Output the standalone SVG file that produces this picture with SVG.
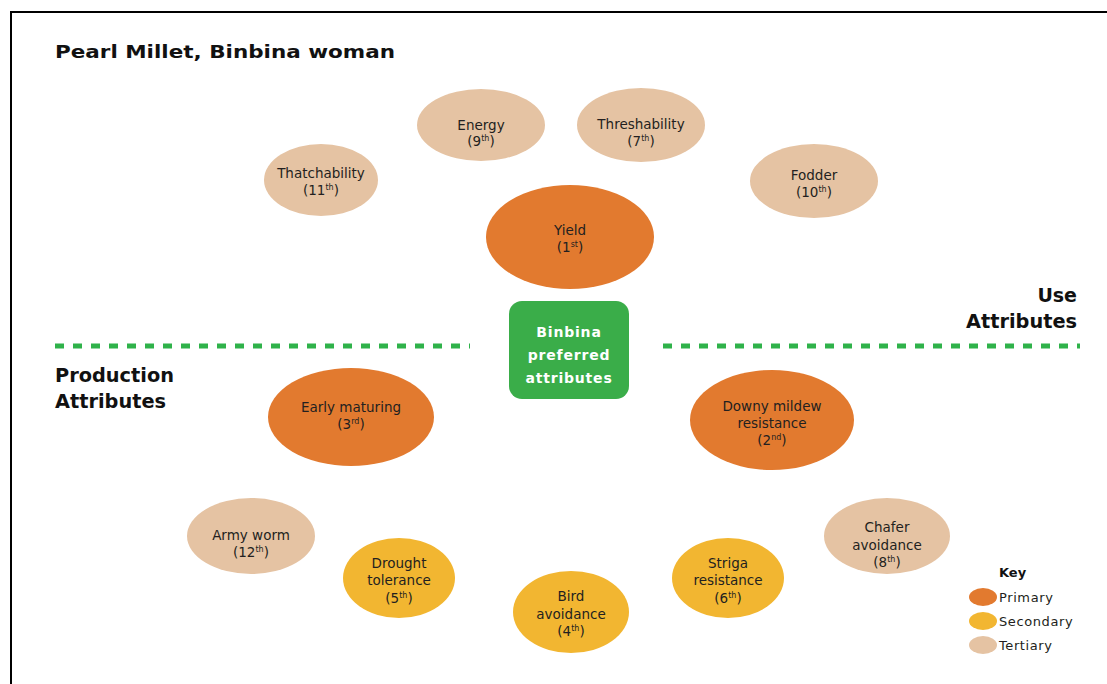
<svg xmlns="http://www.w3.org/2000/svg" width="1107" height="684" viewBox="0 0 1107 684">
<style>
.pri{fill:#e27a2f}
.sec{fill:#f2b631}
.ter{fill:#e5c3a3}
.nt{font-family:"DejaVu Sans","Noto Sans",sans-serif;font-size:13.5px;fill:#231f20;text-anchor:middle}
.sup{font-size:8px}
.hd{font-family:"DejaVu Sans","Noto Sans",sans-serif;font-weight:bold;fill:#111}
.bx{font-family:"DejaVu Sans","Noto Sans",sans-serif;font-weight:bold;font-size:14px;fill:#fff;text-anchor:middle;letter-spacing:0.8px}
.key{font-family:"DejaVu Sans","Noto Sans",sans-serif;font-size:13px;fill:#231f20;letter-spacing:0.6px}
.dash{stroke:#2fb24a;stroke-width:5;stroke-dasharray:9 9;fill:none}
</style>
<rect width="1107" height="684" fill="#fff"/>
<path d="M11 684 V12 H1107" fill="none" stroke="#000" stroke-width="2"/>
<text class="hd" x="55" y="58" font-size="18.5" textLength="340" lengthAdjust="spacingAndGlyphs">Pearl Millet, Binbina woman</text>
<text class="hd" x="1077" y="302" font-size="19" text-anchor="end">Use</text>
<text class="hd" x="1077" y="328" font-size="19" text-anchor="end" textLength="111" lengthAdjust="spacingAndGlyphs">Attributes</text>
<text class="hd" x="55" y="382" font-size="19" textLength="119" lengthAdjust="spacingAndGlyphs">Production</text>
<text class="hd" x="55" y="408" font-size="19" textLength="111" lengthAdjust="spacingAndGlyphs">Attributes</text>
<g id="connectors">
<line class="dash" x1="55" y1="346" x2="470" y2="346"/>
<line class="dash" x1="663" y1="346" x2="1080" y2="346"/>
</g>
<g id="center">
<rect x="509" y="301" width="120" height="98" rx="13" fill="#3aad49"/>
<text class="bx" x="569" y="337">Binbina</text>
<text class="bx" x="569" y="360">preferred</text>
<text class="bx" x="569" y="383">attributes</text>
</g>
<g id="energy"><ellipse class="ter" cx="481" cy="125" rx="64" ry="36"/>
<text class="nt" x="481" y="130">Energy</text><text class="nt" x="481" y="146">(9<tspan class="sup" dy="-5">th</tspan><tspan dy="5">)</tspan></text></g>
<g id="threshability"><ellipse class="ter" cx="641" cy="125" rx="64" ry="37"/>
<text class="nt" x="641" y="129">Threshability</text><text class="nt" x="641" y="146">(7<tspan class="sup" dy="-5">th</tspan><tspan dy="5">)</tspan></text></g>
<g id="thatchability"><ellipse class="ter" cx="321" cy="180" rx="57" ry="36"/>
<text class="nt" x="321" y="178">Thatchability</text><text class="nt" x="321" y="195">(11<tspan class="sup" dy="-5">th</tspan><tspan dy="5">)</tspan></text></g>
<g id="fodder"><ellipse class="ter" cx="814" cy="181" rx="64" ry="37"/>
<text class="nt" x="814" y="180">Fodder</text><text class="nt" x="814" y="197">(10<tspan class="sup" dy="-5">th</tspan><tspan dy="5">)</tspan></text></g>
<g id="yield"><ellipse class="pri" cx="570" cy="237" rx="84" ry="52"/>
<text class="nt" x="570" y="235">Yield</text><text class="nt" x="570" y="252">(1<tspan class="sup" dy="-5">st</tspan><tspan dy="5">)</tspan></text></g>
<g id="early"><ellipse class="pri" cx="351" cy="417" rx="83" ry="49"/>
<text class="nt" x="351" y="412">Early maturing</text><text class="nt" x="351" y="429">(3<tspan class="sup" dy="-5">rd</tspan><tspan dy="5">)</tspan></text></g>
<g id="downy"><ellipse class="pri" cx="772" cy="420" rx="82" ry="50"/>
<text class="nt" x="772" y="411">Downy mildew</text><text class="nt" x="772" y="428">resistance</text><text class="nt" x="772" y="445">(2<tspan class="sup" dy="-5">nd</tspan><tspan dy="5">)</tspan></text></g>
<g id="armyworm"><ellipse class="ter" cx="251" cy="536" rx="64" ry="38"/>
<text class="nt" x="251" y="540">Army worm</text><text class="nt" x="251" y="557">(12<tspan class="sup" dy="-5">th</tspan><tspan dy="5">)</tspan></text></g>
<g id="drought"><ellipse class="sec" cx="399" cy="578" rx="56" ry="40"/>
<text class="nt" x="399" y="568">Drought</text><text class="nt" x="399" y="585">tolerance</text><text class="nt" x="399" y="603">(5<tspan class="sup" dy="-5">th</tspan><tspan dy="5">)</tspan></text></g>
<g id="bird"><ellipse class="sec" cx="571" cy="612" rx="58" ry="41"/>
<text class="nt" x="571" y="601">Bird</text><text class="nt" x="571" y="619">avoidance</text><text class="nt" x="571" y="636">(4<tspan class="sup" dy="-5">th</tspan><tspan dy="5">)</tspan></text></g>
<g id="striga"><ellipse class="sec" cx="728" cy="578" rx="56" ry="40"/>
<text class="nt" x="728" y="568">Striga</text><text class="nt" x="728" y="585">resistance</text><text class="nt" x="728" y="603">(6<tspan class="sup" dy="-5">th</tspan><tspan dy="5">)</tspan></text></g>
<g id="chafer"><ellipse class="ter" cx="887" cy="536" rx="63" ry="38"/>
<text class="nt" x="887" y="532">Chafer</text><text class="nt" x="887" y="550">avoidance</text><text class="nt" x="887" y="567">(8<tspan class="sup" dy="-5">th</tspan><tspan dy="5">)</tspan></text></g>
<g id="key">
<text class="hd" x="999" y="577" font-size="13">Key</text>
<ellipse class="pri" cx="983" cy="597" rx="14" ry="9"/>
<ellipse class="sec" cx="983" cy="621" rx="14" ry="9"/>
<ellipse class="ter" cx="983" cy="645" rx="14" ry="9"/>
<text class="key" x="999" y="602">Primary</text>
<text class="key" x="999" y="626">Secondary</text>
<text class="key" x="999" y="650">Tertiary</text>
</g>
</svg>
